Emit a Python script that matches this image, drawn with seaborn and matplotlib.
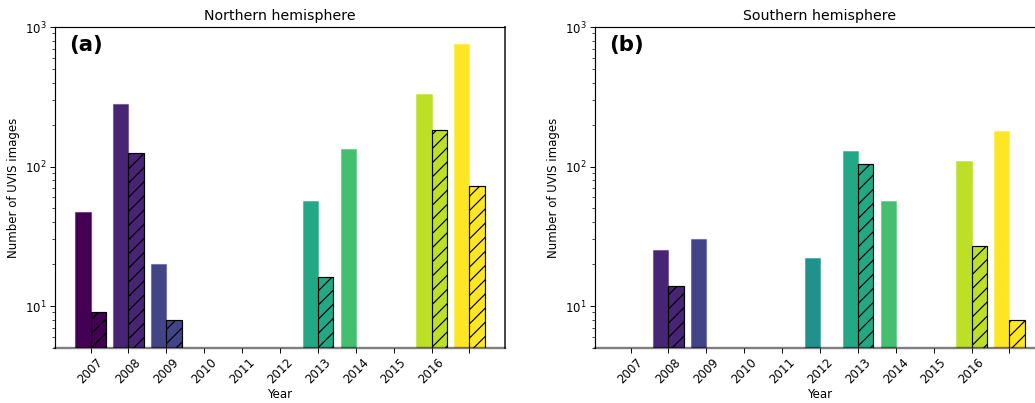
import numpy as np
import pandas as pd
import matplotlib
matplotlib.use("Agg")
import matplotlib.pyplot as plt
import seaborn as sns

# Yearly counts of UVIS images (2007-2017); NaN where no images exist
years = [2007, 2008, 2009, 2010, 2011, 2012, 2013, 2014, 2015, 2016, 2017]
north_all = [47, 282, 20.1, np.nan, np.nan, np.nan, 57, 133, np.nan, 331, 751]
north_sel = [9.0, 125, 8.0, np.nan, np.nan, np.nan, 16.1, np.nan, np.nan, 183, 72]
south_all = [np.nan, 25.4, 30.2, np.nan, np.nan, 22.2, 129, 56.6, np.nan, 110, 181]
south_sel = [np.nan, 14.0, np.nan, np.nan, np.nan, np.nan, 104, np.nan, np.nan, 27.1, 8.0]
tick_labels = ["2007", "2008", "2009", "2010", "2011", "2012",
               "2013", "2014", "2015", "2016", ""]
titles = ["Northern hemisphere", "Southern hemisphere"]
panel_tags = ["(a)", "(b)"]

DPI = 85
plt.rcParams.update({
    "font.family": "DejaVu Sans",
    "font.size": 10,
    "xtick.direction": "out",
    "ytick.direction": "out",
    "xtick.major.size": 4,
    "ytick.major.size": 4,
    "ytick.minor.size": 2.5,
    "hatch.linewidth": 1.0,
})

year_cats = [str(y) for y in years]
colors = matplotlib.colormaps["viridis"](np.linspace(0, 1, len(years)))


def long_frame(all_vals, sel_vals):
    rows = []
    for y, a, s in zip(year_cats, all_vals, sel_vals):
        if not np.isnan(a):
            rows.append({"year": y, "count": a, "kind": "all"})
        if not np.isnan(s):
            rows.append({"year": y, "count": s, "kind": "sel"})
    return pd.DataFrame(rows)


fig = plt.figure(figsize=(1035 / DPI, 403 / DPI), dpi=DPI)
W, H = 1035, 403
ax_w, ax_h = 450 / W, 321 / H
bottom = (H - 348) / H
ax_a = fig.add_axes([55 / W, bottom, ax_w, ax_h])
ax_b = fig.add_axes([595 / W, bottom, ax_w, ax_h])

for ax, (a_vals, s_vals), title, tag in zip(
        [ax_a, ax_b],
        [(north_all, north_sel), (south_all, south_sel)],
        titles, panel_tags):
    df = long_frame(a_vals, s_vals)
    sns.barplot(data=df, x="year", y="count", hue="kind",
                order=year_cats, hue_order=["all", "sel"],
                width=0.8, dodge=True, errorbar=None, legend=False,
                log_scale=(False, True), ax=ax)
    for p in ax.patches:
        cx = p.get_x() + p.get_width() / 2
        i = int(round(cx))
        c = colors[i]
        p.set_facecolor(c)
        if cx > i:
            p.set_edgecolor("black")
            p.set_linewidth(1.0)
            p.set_hatch("//")
        else:
            p.set_edgecolor((c[0], c[1], c[2], 0.45))
            p.set_linewidth(1.0)
    ax.set_yscale("log")
    ax.set_ylim(5, 1000)
    ax.set_xlim(-0.94, len(years) - 1 + 0.94)
    ax.set_xticks(range(len(years)))
    ax.set_xticklabels(tick_labels, rotation=45, fontsize=10)
    ax.tick_params(axis="y", labelsize=10)
    ax.set_xlabel("Year", fontsize=10, labelpad=1)
    ax.set_ylabel("Number of UVIS images", fontsize=10)
    ax.set_title(title, fontsize=12)
    ax.text(0.031, 0.944, tag, transform=ax.transAxes, fontsize=18,
            fontweight="bold", va="center", ha="left")
    for side in ["left", "top"]:
        ax.spines[side].set_color("black")
        ax.spines[side].set_linewidth(1.0)
    ax.spines["right"].set_visible(True)
    ax.spines["right"].set_color("0.2")
    ax.spines["right"].set_linewidth(1.5)
    ax.spines["bottom"].set_color((0, 0, 0, 0.5))
    ax.spines["bottom"].set_linewidth(2.0)
    ax.spines["bottom"].set_zorder(5)
    ax.tick_params(axis="x", which="major", pad=3)

fig.savefig("out.png", dpi=DPI)
